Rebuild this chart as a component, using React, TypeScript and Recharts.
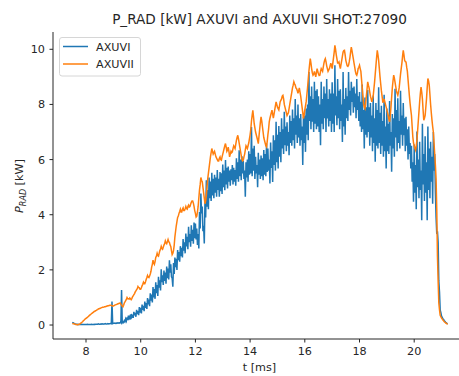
import React from "react";
import { LineChart, Line, XAxis, YAxis, Customized } from "recharts";

// sampling grid (ms): the first array of each pair sits on T_START + i*T_STEP,
// the second on the half step after it
const T_START = 7.5;
const T_STEP = 0.05;

// AXUVI [kW], samples on the grid
const AXUVI_A = [
  0.1, 0.07, 0.04, 0.03, 0.03, 0.02, 0.02, 0.03, 0.02, 0.02,
  0.02, 0.03, 0.02, 0.02, 0.03, 0.02, 0.03, 0.03, 0.03, 0.04,
  0.03, 0.04, 0.04, 0.04, 0.05, 0.04, 0.05, 0.05, 0.06, 0.85,
  0.06, 0.07, 0.07, 0.08, 0.08, 0.09, 1.27, 0.12, 0.16, 0.22,
  0.28, 0.34, 0.3, 0.4, 0.38, 0.48, 0.44, 0.55, 0.5, 0.65,
  0.62, 0.74, 0.7, 0.85, 0.8, 0.98, 0.92, 1.15, 1.1, 1.38,
  1.3, 1.55, 1.45, 1.75, 1.62, 2.02, 1.8, 1.98, 1.9, 2.12,
  2.05, 2.35, 2.2, 1.7, 2.25, 2.45, 2.4, 2.72, 2.65, 2.86,
  2.8, 3.12, 3.0, 3.32, 3.2, 3.56, 3.3, 3.62, 3.45, 3.72,
  3.68, 3.5, 3.3, 4.1, 4.77, 4.3, 3.6, 4.5, 5.25, 4.9,
  5.35, 5.2, 5.52, 5.3, 5.45, 5.35, 5.62, 5.3, 5.55, 5.5,
  5.82, 5.6, 5.98, 5.7, 5.75, 5.6, 5.65, 5.8, 5.7, 5.62,
  6.05, 5.9, 6.34, 6.0, 6.12, 5.95, 5.6, 5.9, 6.0, 6.3,
  6.2, 7.18, 6.4, 6.5, 6.1, 5.8, 6.25, 6.0, 6.15, 6.05,
  6.35, 6.2, 6.58, 6.4, 6.0, 6.62, 6.3, 6.88, 6.7, 7.37,
  6.9, 7.22, 7.0, 7.5, 7.1, 7.73, 7.2, 7.35, 7.0, 7.6,
  7.4, 7.82, 7.5, 8.2, 7.6, 8.0, 7.5, 7.65, 7.2, 7.55,
  7.6, 7.85, 8.0, 9.18, 8.3, 8.65, 8.2, 8.82, 8.5, 8.55,
  8.3, 8.0, 8.82, 8.2, 8.65, 8.4, 8.92, 8.2, 8.55, 8.4,
  8.8, 8.4, 9.42, 8.3, 8.92, 8.5, 8.55, 8.0, 9.18, 8.2,
  8.6, 8.3, 9.18, 8.5, 8.82, 8.6, 8.65, 8.4, 8.92, 8.3,
  8.45, 8.1, 8.72, 7.8, 8.25, 7.9, 8.52, 7.9, 8.05, 7.6,
  8.32, 7.5, 8.05, 7.8, 8.62, 7.7, 7.95, 7.4, 8.35, 7.2,
  7.85, 7.3, 8.12, 7.0, 7.65, 7.5, 8.57, 7.8, 8.22, 7.4,
  8.5, 7.6, 8.05, 7.5, 7.55, 7.1, 7.2, 6.6, 6.5, 5.9,
  6.55, 5.8, 7.02, 6.0, 6.65, 5.6, 7.3, 6.2, 6.85, 5.9,
  7.2, 6.4, 6.65, 6.1, 7.0, 6.2, 3.9, 3.4, 1.6, 0.55,
  0.32, 0.22, 0.16, 0.1, 0.06,
];

// AXUVI [kW], samples half a step later
const AXUVI_B = [
  0.08, 0.05, 0.03, 0.02, 0.02, 0.02, 0.02, 0.02, 0.02, 0.02,
  0.02, 0.02, 0.02, 0.02, 0.02, 0.02, 0.02, 0.03, 0.03, 0.03,
  0.03, 0.03, 0.03, 0.04, 0.04, 0.04, 0.04, 0.05, 0.05, 0.05,
  0.06, 0.06, 0.06, 0.07, 0.07, 0.08, 0.08, 0.09, 0.12, 0.15,
  0.18, 0.24, 0.2, 0.3, 0.26, 0.35, 0.3, 0.4, 0.36, 0.45,
  0.42, 0.55, 0.5, 0.62, 0.58, 0.75, 0.68, 0.88, 0.82, 1.0,
  0.95, 1.15, 1.05, 1.35, 1.25, 1.55, 1.45, 1.6, 1.5, 1.7,
  1.65, 1.9, 1.75, 1.39, 1.85, 2.1, 2.0, 2.35, 2.3, 2.5,
  2.45, 2.7, 2.6, 2.85, 2.75, 3.0, 2.84, 3.05, 2.95, 3.15,
  3.1, 2.9, 2.78, 3.5, 4.05, 3.4, 2.96, 3.9, 4.29, 4.2,
  4.6, 4.5, 4.7, 4.6, 4.8, 4.65, 4.9, 4.65, 4.85, 4.75,
  5.0, 4.89, 5.1, 4.95, 5.2, 5.05, 5.25, 5.1, 5.2, 5.05,
  5.3, 5.2, 5.4, 5.25, 5.5, 5.3, 4.65, 5.35, 5.2, 5.45,
  5.5, 5.4, 5.6, 5.3, 5.5, 5.0, 5.45, 5.3, 5.4, 5.25,
  5.45, 5.4, 5.55, 5.6, 5.13, 5.7, 5.19, 5.8, 5.6, 5.9,
  5.68, 6.1, 5.9, 6.4, 6.2, 6.52, 6.3, 6.5, 6.16, 6.6,
  6.5, 6.7, 6.4, 6.9, 6.6, 6.8, 6.5, 6.7, 5.8, 6.6,
  6.28, 6.9, 6.7, 7.4, 7.1, 7.37, 7.0, 7.3, 7.1, 7.2,
  7.0, 6.52, 7.3, 7.1, 7.5, 7.0, 7.49, 7.2, 7.4, 7.0,
  7.3, 7.0, 7.6, 7.25, 7.5, 7.1, 7.4, 6.64, 7.2, 6.9,
  7.5, 7.4, 7.8, 7.6, 8.09, 7.7, 7.9, 7.5, 7.8, 7.4,
  7.2, 7.0, 7.1, 6.4, 6.9, 6.8, 7.0, 6.5, 6.8, 6.3,
  6.6, 5.92, 6.5, 6.4, 6.6, 6.2, 6.5, 6.1, 6.3, 5.68,
  6.3, 6.2, 6.5, 5.56, 6.4, 6.1, 6.8, 6.3, 6.6, 6.4,
  6.9, 6.5, 6.88, 6.3, 6.5, 6.0, 6.2, 5.68, 5.2, 4.47,
  4.8, 4.2, 5.0, 4.6, 4.9, 3.8, 5.1, 4.5, 4.8, 3.8,
  4.9, 4.6, 5.2, 4.4, 5.6, 4.8, 3.3, 3.0, 1.2, 0.45,
  0.28, 0.2, 0.13, 0.08, 0.05,
];

// AXUVII [kW], samples on the grid
const AXUVII_A = [
  0.06, 0.05, 0.03, 0.02, 0.01, 0.03, 0.06, 0.1, 0.15, 0.2,
  0.24, 0.28, 0.32, 0.37, 0.41, 0.45, 0.49, 0.52, 0.55, 0.58,
  0.6, 0.62, 0.64, 0.65, 0.66, 0.68, 0.7, 0.71, 0.72, 0.7,
  0.69, 0.72, 0.74, 0.76, 0.78, 0.8, 0.72, 0.66, 0.8, 0.88,
  1.0, 0.95, 0.98, 0.92, 1.02, 1.1, 1.2, 1.28, 1.4, 1.35,
  1.3, 1.42, 1.55, 1.5, 1.65, 1.8, 1.72, 1.85, 2.1, 2.35,
  2.2, 2.45, 2.6, 2.5, 2.7, 2.85, 2.75, 2.9, 3.05, 2.95,
  3.1, 3.0, 2.85, 2.55, 2.7, 3.2, 3.6, 3.9, 4.05, 4.2,
  4.1, 4.25, 4.15, 4.3, 4.2, 4.35, 4.3, 4.45, 4.5, 4.3,
  4.05, 3.95, 4.3, 4.9, 5.35, 5.2, 4.8, 4.4, 4.7, 5.3,
  5.7, 6.1, 6.4, 6.2, 6.3, 6.1, 6.0, 5.95, 6.1, 5.98,
  6.2, 6.4, 6.58, 6.3, 6.45, 6.1, 6.3, 6.28, 6.5, 6.4,
  6.7, 6.88, 6.6, 6.3, 6.0, 5.98, 6.2, 6.5, 6.4, 6.6,
  6.9, 7.4, 7.79, 7.3, 7.0, 6.8, 6.58, 7.1, 7.55, 7.2,
  6.8, 6.6, 6.46, 6.9, 7.37, 7.6, 7.79, 7.5, 7.8, 8.09,
  7.9, 7.8, 8.1, 8.2, 8.33, 8.0, 7.8, 7.6, 7.7, 8.0,
  8.3, 8.6, 8.82, 8.7, 8.57, 8.4, 8.6, 8.3, 7.9, 7.49,
  7.8, 8.1, 8.6, 9.2, 9.66, 9.3, 9.06, 9.2, 9.0, 9.3,
  9.1, 9.06, 9.3, 9.2, 9.5, 9.66, 9.4, 9.2, 9.3, 9.5,
  9.3, 9.7, 10.14, 9.8, 9.5, 9.54, 9.3, 9.6, 9.9, 9.96,
  9.6, 9.4, 9.42, 9.7, 10.08, 9.8, 9.5, 9.2, 9.06, 9.3,
  9.42, 9.2, 8.6, 8.0, 7.85, 8.3, 8.82, 8.6, 8.3, 8.09,
  8.3, 8.8, 9.4, 9.96, 9.6, 9.0, 8.5, 8.09, 8.2, 8.0,
  7.8, 7.6, 7.37, 7.9, 8.6, 9.06, 8.8, 8.5, 8.33, 8.6,
  9.1, 9.5, 9.96, 9.6, 9.54, 9.2, 8.6, 8.03, 7.6, 6.82,
  6.5, 6.34, 6.7, 7.4, 8.1, 8.63, 8.2, 7.43, 7.6, 8.2,
  8.94, 8.7, 8.0, 7.43, 7.0, 6.2, 5.3, 2.5, 0.8, 0.35,
  0.25, 0.18, 0.12, 0.08, 0.04,
];

// AXUVII [kW], samples half a step later
const AXUVII_B = [
  0.05, 0.04, 0.02, 0.01, 0.02, 0.04, 0.08, 0.12, 0.17, 0.22,
  0.26, 0.3, 0.35, 0.39, 0.43, 0.47, 0.5, 0.53, 0.56, 0.59,
  0.61, 0.63, 0.64, 0.66, 0.67, 0.69, 0.7, 0.72, 0.71, 0.69,
  0.7, 0.73, 0.75, 0.77, 0.79, 0.76, 0.68, 0.72, 0.84, 0.93,
  0.96, 0.94, 0.95, 0.96, 1.06, 1.14, 1.24, 1.32, 1.36, 1.3,
  1.35, 1.48, 1.5, 1.57, 1.72, 1.74, 1.78, 1.95, 2.2, 2.25,
  2.3, 2.5, 2.52, 2.6, 2.75, 2.78, 2.82, 2.95, 2.98, 3.02,
  3.02, 2.9, 2.7, 2.6, 2.9, 3.4, 3.75, 3.95, 4.12, 4.1,
  4.2, 4.15, 4.22, 4.22, 4.3, 4.28, 4.38, 4.5, 4.42, 4.15,
  3.92, 4.1, 4.6, 5.1, 5.25, 5.0, 4.6, 4.5, 5.0, 5.5,
  5.9, 6.25, 6.3, 6.25, 6.2, 6.05, 5.95, 6.05, 6.0, 6.1,
  6.3, 6.5, 6.45, 6.35, 6.3, 6.2, 6.25, 6.4, 6.45, 6.55,
  6.8, 6.75, 6.45, 6.15, 5.95, 6.1, 6.35, 6.45, 6.5, 6.75,
  7.1, 7.6, 7.55, 7.15, 6.9, 6.7, 6.85, 7.35, 7.4, 7.0,
  6.7, 6.5, 6.65, 7.1, 7.5, 7.7, 7.65, 7.65, 7.95, 8.0,
  7.85, 7.95, 8.15, 8.3, 8.2, 7.9, 7.7, 7.65, 7.85, 8.15,
  8.45, 8.7, 8.75, 8.6, 8.5, 8.5, 8.45, 8.1, 7.7, 7.6,
  7.95, 8.35, 8.9, 9.45, 9.5, 9.15, 9.1, 9.1, 9.15, 9.2,
  9.05, 9.2, 9.25, 9.35, 9.6, 9.55, 9.3, 9.25, 9.4, 9.4,
  9.5, 9.9, 10.0, 9.65, 9.5, 9.4, 9.45, 9.75, 9.95, 9.8,
  9.5, 9.38, 9.55, 9.9, 9.95, 9.65, 9.35, 9.1, 9.15, 9.35,
  9.3, 8.9, 8.3, 7.9, 8.05, 8.55, 8.7, 8.45, 8.2, 8.2,
  8.55, 9.1, 9.7, 9.8, 9.3, 8.75, 8.3, 8.1, 8.1, 7.9,
  7.7, 7.45, 7.6, 8.25, 8.85, 8.95, 8.65, 8.4, 8.45, 8.85,
  9.3, 9.75, 9.8, 9.55, 9.35, 8.9, 8.3, 7.8, 7.2, 6.6,
  6.4, 6.5, 7.05, 7.75, 8.4, 8.45, 7.8, 7.5, 7.9, 8.6,
  8.85, 8.35, 7.7, 7.2, 6.6, 5.8, 4.2, 1.6, 0.55, 0.3,
  0.22, 0.15, 0.1, 0.06, 0.03,
];

const X_TICKS = [8, 10, 12, 14, 16, 18, 20];
const Y_TICKS = [0, 2, 4, 6, 8, 10];
const SERIES_NAMES = ["AXUVI", "AXUVII"];
const TITLE = "P_RAD [kW] AXUVI and AXUVII SHOT:27090";
const X_LABEL = "t [ms]";

const BLUE = "#1f77b4";
const ORANGE = "#ff7f0e";
const FONT = "DejaVu Sans";
const AXIS_COLOR = "#262626";
const TEXT_COLOR = "#262626";

const buildSeries = (onGrid: number[], halfStep: number[]) =>
  onGrid.flatMap((v, i) => [
    { t: T_START + i * T_STEP, v },
    { t: T_START + i * T_STEP + T_STEP / 2, v: halfStep[i] },
  ]);

const seriesA = buildSeries(AXUVI_A, AXUVI_B);
const seriesB = buildSeries(AXUVII_A, AXUVII_B);

const Decorations = () => (
  <g>
    <text x={259.5} y={24} textAnchor="middle" fontSize={13.6} fontFamily={FONT} fill={TEXT_COLOR}>{TITLE}</text>
    <text x={259.5} y={371} textAnchor="middle" fontSize={11.2} fontFamily={FONT} fill={TEXT_COLOR}>{X_LABEL}</text>
    <text transform="translate(23,186) rotate(-90)" textAnchor="middle" fontSize={11.2} fontFamily={FONT} fill={TEXT_COLOR}>
      <tspan fontStyle="italic">P</tspan>
      <tspan fontStyle="italic" fontSize={8} dy={2.5}>RAD</tspan>
      <tspan dy={-2.5}> [kW]</tspan>
    </text>
    <g transform="translate(59,37)">
      <rect x={0.5} y={0.5} width={81} height={38.5} rx={2.5} fill="#ffffff" fillOpacity={0.8} stroke="#d6d6d6" />
      <line x1={4} x2={29} y1={9.5} y2={9.5} stroke={BLUE} strokeWidth={1.5} />
      <line x1={4} x2={29} y1={27} y2={27} stroke={ORANGE} strokeWidth={1.5} />
      <text x={37} y={13.5} fontSize={11.2} fontFamily={FONT} fill={TEXT_COLOR}>{SERIES_NAMES[0]}</text>
      <text x={37} y={31} fontSize={11.2} fontFamily={FONT} fill={TEXT_COLOR}>{SERIES_NAMES[1]}</text>
    </g>
  </g>
);

export default function App() {
  return (
    <div style={{ position: "absolute", left: 0, top: 0 }}>
      <LineChart
        width={459}
        height={376}
        margin={{ top: 32, right: 0, bottom: 0, left: 0 }}
      >
        <XAxis
          dataKey="t"
          type="number"
          domain={[6.793, 21.638]}
          ticks={X_TICKS}
          allowDataOverflow
          height={37}
          tickSize={3.5}
          tickMargin={4.5}
          stroke={AXIS_COLOR}
          tick={{ fontSize: 11.2, fontFamily: FONT, fill: TEXT_COLOR }}
          tickLine={{ stroke: AXIS_COLOR }}
          axisLine={{ stroke: AXIS_COLOR }}
        />
        <XAxis
          xAxisId="top"
          orientation="top"
          type="number"
          domain={[6.793, 21.638]}
          height={0}
          tick={false}
          tickLine={false}
          axisLine={{ stroke: AXIS_COLOR }}
        />
        <YAxis
          type="number"
          domain={[-0.507, 10.627]}
          ticks={Y_TICKS}
          allowDataOverflow
          width={53}
          tickSize={3.5}
          tickMargin={4.5}
          stroke={AXIS_COLOR}
          tick={{ fontSize: 11.2, fontFamily: FONT, fill: TEXT_COLOR }}
          tickLine={{ stroke: AXIS_COLOR }}
          axisLine={{ stroke: AXIS_COLOR }}
        />
        <Line
          data={seriesA}
          dataKey="v"
          name={SERIES_NAMES[0]}
          type="linear"
          stroke={BLUE}
          strokeWidth={1.5}
          dot={false}
          isAnimationActive={false}
        />
        <Line
          data={seriesB}
          dataKey="v"
          name={SERIES_NAMES[1]}
          type="linear"
          stroke={ORANGE}
          strokeWidth={1.5}
          dot={false}
          isAnimationActive={false}
        />
        <Customized component={Decorations} />
      </LineChart>
    </div>
  );
}
